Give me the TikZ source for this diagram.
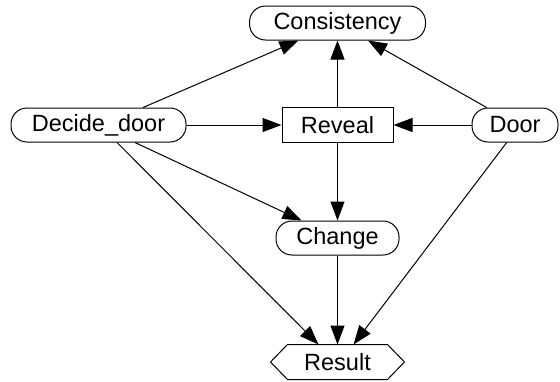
\documentclass[tikz,border=0pt]{standalone}
\usepackage{fontspec}
\setmainfont{Liberation Sans}
\usetikzlibrary{arrows.meta}
\tikzset{
  base/.style={line width=1pt, inner sep=0pt, font=\fontsize{23.5}{26}\selectfont, align=center},
  stadium/.style={base, draw, rectangle, rounded corners=16pt, minimum height=34pt},
  boxnode/.style={base, draw, rectangle, minimum height=35pt},
  hexnode/.style={base, rectangle, minimum height=34pt},
  arr/.style={line width=1pt, -{Triangle[length=19pt,width=14pt]}}
}
\begin{document}
\begin{tikzpicture}[x=1pt,y=-1pt]
\useasboundingbox (0,0) rectangle (560,381);
\node[stadium, minimum width=176pt] (cons) at (337.5,23) {Consistency};
\node[stadium, minimum width=175pt] (dd) at (98.5,125) {Decide\_door};
\node[boxnode, minimum width=111pt] (rev) at (337.5,125) {Reveal};
\node[stadium, minimum width=86pt] (door) at (515,125) {Door};
\node[stadium, minimum width=123pt] (chg) at (337.5,238) {Change};
\node[hexnode, minimum width=99pt] (res) at (337.5,362) {Result};
\draw[line width=1pt] (res.north west) -- (res.north east) -- ([xshift=17pt]res.east)
  -- (res.south east) -- (res.south west) -- ([xshift=-17pt]res.west) -- cycle;
% edges
\draw[arr] ([xshift=44.5pt]dd.north) -- ([xshift=-39pt]cons.south);
\draw[arr] (rev.north) -- (cons.south);
\draw[arr] ([xshift=-28.3pt]door.north) -- ([xshift=30.5pt]cons.south);
\draw[arr] (dd.east) -- (rev.west);
\draw[arr] (door.west) -- (rev.east);
\draw[arr] (rev.south) -- (chg.north);
\draw[arr] ([xshift=36.5pt]dd.south) -- ([xshift=-36pt]chg.north);
\draw[arr] ([xshift=18.5pt]dd.south) -- ([xshift=-19pt]res.north);
\draw[arr] (chg.south) -- (res.north);
\draw[arr] ([xshift=-8.3pt]door.south) -- ([xshift=16pt]res.north);
\end{tikzpicture}
\end{document}
